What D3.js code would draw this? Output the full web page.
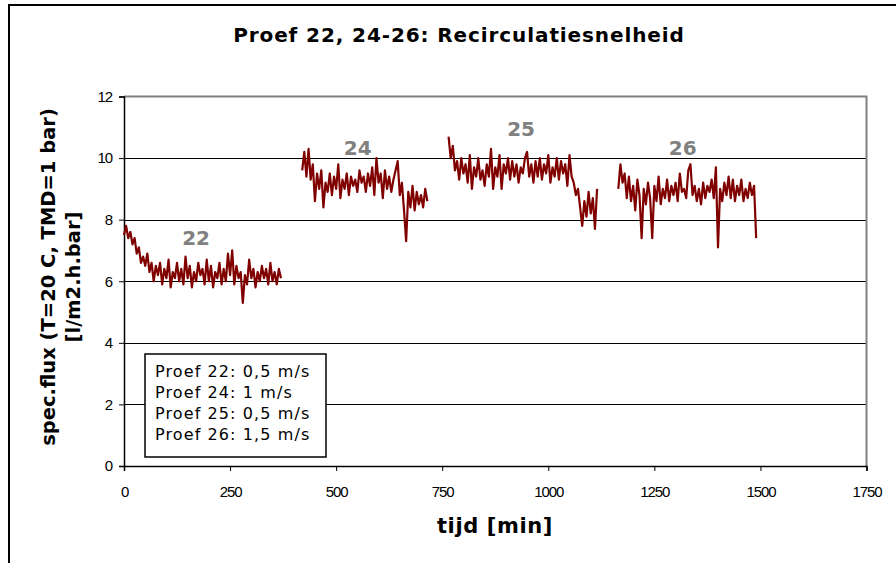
<!DOCTYPE html>
<html><head><meta charset="utf-8">
<script src="https://cdn.jsdelivr.net/npm/d3@7"></script>
<style>body{margin:0;background:#fff}svg{display:block}</style>
</head><body>
<svg id="c" width="896" height="563"></svg>
<script>
// Data (spec.flux vs time in minutes), sampled every 5 min from segment start
const seg22Start = 0, seg24Start = 420, seg25Start = 765, seg26Start = 1165, sampleStep = 5;
const seg22 = [7.5,7.8,7.4,7.6,7.2,7.4,6.9,7.1,6.6,6.8,
  6.5,6.9,6.3,6.6,6.0,6.5,6.2,6.6,5.9,6.4,
  6.1,6.7,5.8,6.3,6.1,6.6,6.0,6.4,5.9,6.8,
  6.1,6.5,5.8,6.3,6.0,6.6,6.2,6.4,5.9,6.7,
  6.0,6.5,5.8,6.3,6.1,6.6,5.9,6.4,6.0,6.9,
  6.2,7.0,5.9,6.5,6.1,6.3,5.3,6.2,5.9,6.7,
  6.1,6.4,5.8,6.3,6.0,6.5,6.1,6.4,5.9,6.6,
  6.0,6.3,5.9,6.4,6.1];
const seg24 = [9.6,10.2,9.4,10.3,9.3,9.8,8.6,9.5,9.0,9.6,
  8.4,9.2,8.9,9.5,8.8,9.4,9.0,9.8,8.7,9.3,
  9.0,9.5,8.8,9.4,9.1,9.3,8.9,9.6,9.2,9.4,
  8.9,9.5,9.1,9.7,8.8,10.0,9.2,9.5,8.7,9.6,
  9.0,9.4,8.9,9.3,9.6,9.9,8.8,9.2,8.3,7.3,
  8.9,8.4,9.1,8.3,8.9,8.5,8.8,8.4,9.0,8.6];
const seg25 = [10.7,10.0,10.4,9.6,9.9,9.3,10.0,9.5,9.8,9.2,
  10.1,9.0,9.7,9.4,10.0,9.3,9.6,9.1,9.8,9.4,
  10.3,9.0,9.7,9.4,10.1,9.0,9.8,9.5,10.0,9.3,
  9.9,9.4,9.8,9.2,9.7,9.5,10.0,10.2,9.4,9.8,
  9.2,9.9,9.4,10.0,9.3,9.8,9.5,10.1,9.2,9.7,
  9.4,10.0,9.3,9.9,9.5,9.8,9.1,10.1,9.4,9.2,
  8.8,9.0,8.4,7.8,8.6,8.1,8.9,8.2,8.7,7.7,
  9.0];
const seg26 = [9.0,9.8,9.2,9.5,8.7,9.4,8.6,9.1,8.3,9.3,
  8.8,7.4,9.0,8.5,9.2,8.7,7.4,9.1,8.6,9.4,
  8.5,9.0,8.7,9.3,8.6,9.1,8.8,9.2,8.6,9.5,
  8.9,9.0,8.7,9.6,9.8,8.8,9.1,8.6,9.0,8.5,
  9.2,8.7,9.1,8.9,9.3,8.7,9.7,7.1,9.0,8.6,
  9.2,8.8,9.4,8.7,9.3,8.6,9.1,8.8,9.3,8.6,
  9.0,8.7,9.2,8.8,9.1,7.4];
const segLabels = ["22","24","25","26"];
const segLabelPos = [[170,7.18],[551,10.1],[936,10.72],[1317,10.1]];
const xTicks = [0,250,500,750,1000,1250,1500,1750];
const yTicks = [0,2,4,6,8,10,12];
const legendLines = ["Proef 22: 0,5 m/s","Proef 24: 1 m/s","Proef 25: 0,5 m/s","Proef 26: 1,5 m/s"];

const svg = d3.select("#c");
const L = 124, R = 866.5, T = 96.5, B = 466;
const x = d3.scaleLinear().domain([0,1750]).range([L,R]);
const y = d3.scaleLinear().domain([0,12]).range([B,T]);

// outer frame
svg.append("rect").attr("x",9).attr("y",5).attr("width",1000).attr("height",700)
  .attr("fill","none").attr("stroke","#000").attr("stroke-width",2);

// title
svg.append("text").attr("x",459).attr("y",42).attr("text-anchor","middle")
  .attr("font-family","DejaVu Sans").attr("font-weight","bold").attr("font-size",20)
  .attr("letter-spacing",0.9)
  .text("Proef 22, 24-26: Recirculatiesnelheid");

// gridlines
svg.append("g").selectAll("line").data(yTicks.filter(d=>d>0&&d<12)).join("line")
  .attr("x1",L).attr("x2",R).attr("y1",d=>Math.round(y(d))+0.5).attr("y2",d=>Math.round(y(d))+0.5)
  .attr("stroke","#000").attr("stroke-width",1);

// plot border top/right
svg.append("path").attr("d",`M${L},${T}H${R}V${B}`).attr("fill","none")
  .attr("stroke","#808080").attr("stroke-width",2);

// axes
const yAxis = d3.axisLeft(y).tickValues(yTicks).tickSize(5).tickPadding(7).tickFormat(d3.format("d"));
const gy = svg.append("g").attr("transform",`translate(${L},0)`).call(yAxis);
const xAxis = d3.axisBottom(x).tickValues(xTicks).tickSize(5).tickPadding(15).tickFormat(d3.format("d"));
const gx = svg.append("g").attr("transform",`translate(0,${B})`).call(xAxis);
[gy,gx].forEach(g=>{
  g.select(".domain").attr("stroke","#000").attr("stroke-width",1.5);
  g.selectAll(".tick line").attr("stroke","#000");
  g.selectAll("text").attr("font-family","Liberation Sans, Arial").attr("font-size",15)
    .attr("letter-spacing",-1.1).attr("fill","#000");
});

// data lines
const line = d3.line().x(d=>x(d[0])).y(d=>y(d[1]));
[[seg22Start,seg22],[seg24Start,seg24],[seg25Start,seg25],[seg26Start,seg26]].forEach(([s,vals])=>{
  const pts = vals.map((v,i)=>[s+i*sampleStep, v]);
  svg.append("path").datum(pts).attr("d",line).attr("fill","none")
    .attr("stroke","#800000").attr("stroke-width",2.2).attr("stroke-linejoin","round");
});

// segment labels
svg.append("g").selectAll("text").data(segLabels).join("text")
  .attr("x",(d,i)=>x(segLabelPos[i][0])).attr("y",(d,i)=>y(segLabelPos[i][1]))
  .attr("text-anchor","middle").attr("font-family","DejaVu Sans").attr("font-weight","bold")
  .attr("font-size",20).attr("fill","#808080").text(d=>d);

// legend box
svg.append("rect").attr("x",145).attr("y",354).attr("width",181).attr("height",103)
  .attr("fill","#fff").attr("stroke","#000").attr("stroke-width",1.5);
svg.append("g").selectAll("text").data(legendLines).join("text")
  .attr("x",155).attr("y",(d,i)=>377+i*21).attr("font-family","DejaVu Sans")
  .attr("font-size",16).attr("letter-spacing",1.1).attr("fill","#000").text(d=>d);

// axis titles
svg.append("text").attr("x",495).attr("y",533).attr("text-anchor","middle")
  .attr("font-family","DejaVu Sans").attr("font-weight","bold").attr("font-size",21)
  .attr("letter-spacing",0.6)
  .text("tijd [min]");
const yt = svg.append("text").attr("transform","translate(0,277) rotate(-90)")
  .attr("text-anchor","middle").attr("font-family","DejaVu Sans").attr("font-weight","bold").attr("font-size",19.5);
yt.append("tspan").attr("x",0).attr("y",55).text("spec.flux (T=20 C, TMD=1 bar)");
yt.append("tspan").attr("x",0).attr("y",80).text("[l/m2.h.bar]");
</script>
</body></html>
